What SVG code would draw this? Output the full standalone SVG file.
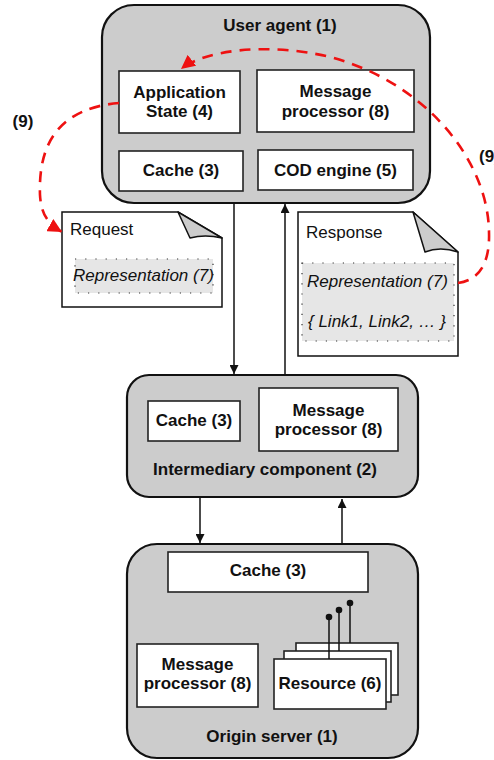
<svg xmlns="http://www.w3.org/2000/svg" width="494" height="760" viewBox="0 0 494 760">
<style>
text{font-family:"Liberation Sans",Arial,sans-serif;font-size:17px;fill:#111}
.b{font-weight:bold;text-anchor:middle}
.i{font-style:italic}
.outer{fill:#cccccc;stroke:#111;stroke-width:2.2}
.inner{fill:#fff;stroke:#222;stroke-width:1.6}
.note{fill:#fff;stroke:#111;stroke-width:1.5}
.fold{fill:#cccccc;stroke:#111;stroke-width:1.5;stroke-linejoin:round}
.rep{fill:#e6e6e6;stroke:#333;stroke-width:1.2;stroke-dasharray:1.2 9}
.conn{fill:none;stroke:#111;stroke-width:1.5}
.red{fill:none;stroke:#ee1111;stroke-width:2.6;stroke-dasharray:11 8}
</style>
<defs>
<marker id="ah" viewBox="0 0 10 10" refX="10" refY="5" markerWidth="9" markerHeight="9" markerUnits="userSpaceOnUse" orient="auto">
<path d="M0,0 L10,5 L0,10 z" fill="#111"/>
</marker>
<marker id="rh" viewBox="0 0 10 10" refX="10" refY="5" markerWidth="14" markerHeight="14" markerUnits="userSpaceOnUse" orient="auto">
<path d="M0,0 L10,5 L0,10 z" fill="#ee1111"/>
</marker>
</defs>

<g id="user-agent">
<rect class="outer" x="102" y="5" width="328" height="198" rx="32"/>
<text class="b" x="280" y="31">User agent (1)</text>
</g>
<g id="app-state">
<rect class="inner" x="119" y="71" width="121" height="62"/>
<text class="b" x="179.5" y="98">Application</text>
<text class="b" x="179.5" y="117">State (4)</text>
</g>
<g id="ua-message-processor">
<rect class="inner" x="257" y="70" width="157" height="62"/>
<text class="b" x="335.5" y="97">Message</text>
<text class="b" x="335.5" y="117">processor (8)</text>
</g>
<g id="ua-cache">
<rect class="inner" x="119" y="151" width="124" height="40"/>
<text class="b" x="181" y="176">Cache (3)</text>
</g>
<g id="cod-engine">
<rect class="inner" x="258" y="150" width="155" height="40"/>
<text class="b" x="335.5" y="176">COD engine (5)</text>
</g>

<g id="request">
<path class="note" d="M62,212 L178,212 L222,238 L222,307 L62,307 z"/>
<path class="fold" d="M178,212 L190,238 Q205,234 222,238 z"/>
<text x="70" y="235">Request</text>
<rect class="rep" x="75" y="259" width="138" height="34"/>
<text class="i" x="73" y="281">Representation (7)</text>
</g>

<g id="response">
<path class="note" d="M298,212 L413,212 L458,252 L458,356 L298,356 z"/>
<path class="fold" d="M413,212 L425,252 Q440,246 458,252 z"/>
<text x="306" y="238">Response</text>
<rect class="rep" x="302" y="263" width="152" height="78"/>
<text class="i" x="307" y="287">Representation (7)</text>
<text class="i" x="308" y="327">{ Link1, Link2, … }</text>
</g>

<g id="intermediary">
<rect class="outer" x="127" y="375" width="291" height="122" rx="22"/>
<text class="b" x="265" y="475">Intermediary component (2)</text>
</g>
<g id="int-cache">
<rect class="inner" x="148" y="401" width="92" height="40"/>
<text class="b" x="194" y="426">Cache (3)</text>
</g>
<g id="int-message-processor">
<rect class="inner" x="259" y="388" width="139" height="63"/>
<text class="b" x="328.5" y="416">Message</text>
<text class="b" x="328.5" y="435">processor (8)</text>
</g>

<g id="origin-server">
<rect class="outer" x="127" y="544" width="291" height="214" rx="30"/>
<text class="b" x="272" y="742">Origin server (1)</text>
</g>
<g id="os-cache">
<rect class="inner" x="168" y="552" width="200" height="40"/>
<text class="b" x="268" y="576">Cache (3)</text>
</g>
<g id="os-message-processor">
<rect class="inner" x="137" y="644" width="121" height="63"/>
<text class="b" x="197.5" y="670">Message</text>
<text class="b" x="197.5" y="689">processor (8)</text>
</g>
<g id="resource">
<rect class="inner" x="296" y="643" width="102" height="52"/>
<rect class="inner" x="284" y="651" width="107" height="51"/>
<rect class="inner" x="274" y="659" width="112" height="50"/>
<g stroke="#111" stroke-width="1.5">
<line x1="329" y1="659" x2="329" y2="617"/>
<line x1="339" y1="651" x2="339" y2="610"/>
<line x1="350" y1="643" x2="350" y2="603"/>
</g>
<g fill="#111">
<circle cx="329" cy="617" r="3.3"/>
<circle cx="339" cy="610" r="3.3"/>
<circle cx="350" cy="603" r="3.3"/>
</g>
<text class="b" x="330" y="689">Resource (6)</text>
</g>

<g id="connectors">
<line class="conn" x1="234" y1="204" x2="234" y2="374" marker-end="url(#ah)"/>
<line class="conn" x1="285" y1="375" x2="285" y2="204" marker-end="url(#ah)"/>
<line class="conn" x1="200" y1="498" x2="200" y2="543" marker-end="url(#ah)"/>
<line class="conn" x1="342" y1="544" x2="342" y2="499" marker-end="url(#ah)"/>
<path class="red" d="M119,103 C62,108 38,140 40,195 C41,214 48,224 62,232" marker-end="url(#rh)"/>
<path class="red" d="M458,283 C480,280 490,262 489,232 C488,160 425,82 330,57 C268,42 205,50 181,69" marker-end="url(#rh)"/>
<text class="b" x="23" y="127">(9)</text>
<text style="font-weight:bold" x="479" y="162">(9)</text>
</g>
</svg>
